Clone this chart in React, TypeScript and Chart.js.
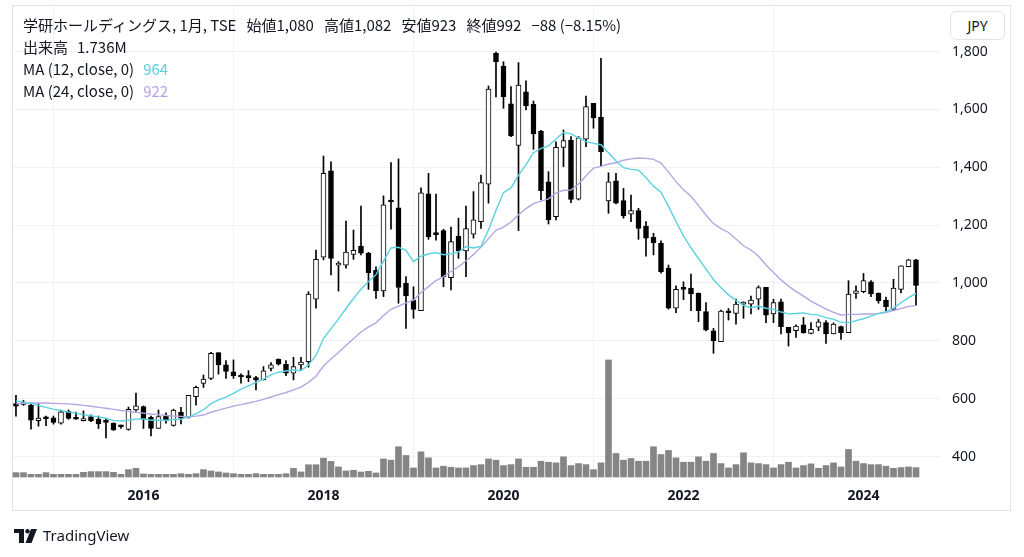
import React, { useEffect, useRef } from 'react';
import { Chart, registerables } from 'chart.js';
Chart.register(...registerables);

// Monthly candles, 2014-08 .. 2024-08 (学研ホールディングス, TSE)
const firstYear = 2014;
const firstMonth = 8;
const opens = [583,586,578,524,532,534,515,556,531,524,538,529,520,515,505,494,561,573,536,497,543,508,554,536,607,653,670,759,717,693,678,679,673,665,705,736,719,688,717,728,944,1089,1388,1062,1062,1099,1128,1103,1045,973,1285,1260,999,941,904,1308,1170,1181,1018,1162,1111,1169,1212,1342,1794,1750,1619,1476,1661,1618,1525,1350,1229,1469,1494,1290,1497,1621,1573,1284,1353,1285,1238,1250,1197,1158,1137,1051,913,985,982,964,901,835,797,903,895,927,927,944,985,893,935,847,835,855,826,847,863,824,849,828,964,970,1004,964,941,909,978,1056,1080];
const highs = [612,594,582,582,540,540,561,561,554,558,544,540,530,517,509,571,619,575,540,561,551,564,570,612,644,682,760,759,732,734,686,697,677,711,725,738,732,743,743,970,1114,1439,1419,1074,1214,1183,1266,1106,1056,1301,1416,1429,1022,987,1329,1379,1307,1186,1193,1224,1266,1316,1373,1681,1798,1765,1679,1762,1699,1629,1528,1385,1488,1529,1506,1506,1646,1621,1777,1381,1379,1327,1304,1258,1212,1172,1146,1062,990,1004,1031,966,932,843,906,912,944,935,955,990,985,944,944,847,855,881,863,874,870,862,851,1008,990,1033,1008,966,951,1013,1059,1082,1082];
const lows = [540,577,495,505,507,512,512,529,528,523,521,497,464,490,497,491,556,497,471,497,515,505,513,533,578,639,666,685,670,670,654,659,630,665,696,716,680,665,701,709,913,1080,1028,972,1051,1082,1097,978,947,953,1186,930,843,878,904,1151,1148,987,976,1085,1022,1155,1189,1276,1643,1604,1506,1181,1598,1462,1287,1204,1218,1402,1278,1287,1471,1535,1404,1241,1273,1224,1212,1151,1093,1097,1034,910,897,942,904,866,834,757,797,872,858,878,893,909,863,863,824,782,812,826,824,835,791,824,805,828,947,966,953,930,904,907,966,1056,923];
const closes = [574,580,526,533,530,518,555,532,529,531,524,513,518,492,503,563,575,529,497,538,524,561,533,612,639,668,757,717,694,679,675,673,665,696,717,719,688,711,727,962,1082,1379,1085,1068,1107,1113,1103,1036,973,1270,1280,985,955,909,1312,1160,1167,1022,1143,1111,1188,1218,1347,1670,1765,1644,1508,1684,1613,1515,1319,1218,1469,1492,1289,1502,1610,1571,1454,1350,1276,1232,1250,1189,1155,1139,1039,913,978,978,962,904,838,801,903,897,927,930,941,984,889,932,849,828,851,828,840,866,824,858,828,962,973,1008,962,939,918,982,1059,1080,992];
// Volume in millions of shares
const volumes = [0.81,0.81,0.5,0.5,0.81,0.5,0.5,0.5,0.5,0.87,1.0,1.0,1.0,0.87,0.5,1.37,1.62,0.56,0.5,0.5,0.5,0.5,0.62,0.5,0.62,1.37,1.12,0.94,0.75,0.62,0.5,0.5,0.62,0.5,0.5,0.5,0.62,1.6,0.94,2.27,2.27,3.5,2.9,1.87,1.12,1.25,0.93,1.06,0.75,3.36,3.12,5.61,3.99,1.68,4.67,3.55,1.68,2.0,1.81,1.68,1.68,2.12,2.3,3.36,3.12,2.12,2.3,3.36,1.81,1.81,2.93,2.74,2.62,3.74,2.12,2.49,2.3,1.37,2.62,21.7,4.36,3.12,3.43,2.93,2.93,5.61,4.17,4.92,3.55,2.74,2.74,3.74,2.93,4.36,2.49,1.68,2.3,4.49,2.62,2.49,2.3,1.68,2.3,2.74,1.68,2.12,2.43,1.62,2.12,2.62,1.87,5.11,2.93,2.49,2.3,2.3,2.0,1.62,1.74,1.87,1.74];
// Moving-average values read from the picture where earlier months are not shown
const ma12Early = [592,588,584,577,570,564,559,554,550,545,541];
const ma24Early = [582,584,585,585,585,584,583,582,580,577,574,570,567,563,559,556,553,550,547,545,542,540,539];
const yearTicks = [2016, 2018, 2020, 2022, 2024];
const priceTicks = [400, 600, 800, 1000, 1200, 1400, 1600, 1800];
const headerParts = ['学研ホールディングス, 1月, TSE', '始値1,080', '高値1,082', '安値923', '終値992', '−88 (−8.15%)'];

const FONT = '"Noto Sans", "Noto Sans CJK JP", sans-serif';
const CJK = '"Noto Sans CJK JP", "Noto Sans", sans-serif';

function sma(period: number, early: number[]) {
  return closes.map((_, i) => {
    if (i < period - 1) return { x: i, y: early[i] };
    let s = 0;
    for (let k = i - period + 1; k <= i; k++) s += closes[k];
    return { x: i, y: s / period };
  });
}

const zeroPad = (s: any) => { s.paddingTop = 0; s.paddingBottom = 0; s.paddingLeft = 0; s.paddingRight = 0; };

export default function App() {
  const ref = useRef<HTMLCanvasElement>(null);
  useEffect(() => {
    const idx = closes.map((_, i) => i);
    const up = idx.map(i => closes[i] >= opens[i]);
    const chart = new Chart(ref.current!, {
      type: 'bar',
      data: {
        datasets: [
          {
            type: 'line', label: 'MA12', data: sma(12, ma12Early), borderColor: '#5ad2e2',
            borderWidth: 1.4, pointRadius: 0, tension: 0, yAxisID: 'y', order: 1,
          } as any,
          {
            type: 'line', label: 'MA24', data: sma(24, ma24Early), borderColor: '#b7a5e2',
            borderWidth: 1.4, pointRadius: 0, tension: 0, yAxisID: 'y', order: 2,
          } as any,
          {
            type: 'bar', label: 'body', data: idx.map(i => ({ x: i, y: [opens[i], closes[i]] })),
            backgroundColor: up.map(u => (u ? '#ffffff' : '#000000')), borderColor: '#000000',
            borderWidth: 1, borderSkipped: false, barThickness: 5, minBarLength: 2, grouped: false,
            yAxisID: 'y', order: 3,
          } as any,
          {
            type: 'bar', label: 'wick', data: idx.map(i => ({ x: i, y: [lows[i], highs[i]] })),
            backgroundColor: '#000000', borderWidth: 0, barThickness: 1, grouped: false,
            yAxisID: 'y', order: 4,
          } as any,
          {
            type: 'bar', label: 'vol', data: idx.map(i => ({ x: i, y: volumes[i] })),
            backgroundColor: '#858585', borderWidth: 0, barThickness: 6, grouped: false,
            yAxisID: 'yv', order: 5,
          } as any,
        ],
      },
      options: {
        animation: false,
        responsive: false,
        devicePixelRatio: 1,
        layout: { padding: { left: 12, right: 12, top: 5, bottom: 45 } },
        plugins: { legend: { display: false }, tooltip: { enabled: false } },
        scales: {
          x: {
            type: 'linear', min: -0.53, max: 123.2, offset: false,
            grid: { color: '#eff1f5', drawTicks: false },
            border: { display: false },
            afterBuildTicks: (s: any) => {
              s.ticks = yearTicks.map(y => ({ value: (y - firstYear) * 12 + (1 - firstMonth) }));
            },
            afterFit: (s: any) => { s.height = 33; zeroPad(s); },
            ticks: {
              padding: 9, color: '#131722', font: { family: FONT, size: 14, weight: 'bold' },
              maxRotation: 0, autoSkip: false,
              callback: (v: any) => String(firstYear + Math.floor((Number(v) + firstMonth - 1) / 12)),
            },
          },
          y: {
            position: 'right', min: 322.4, max: 1961,
            grid: { color: '#eff1f5', drawTicks: false },
            border: { display: false },
            afterBuildTicks: (s: any) => { s.ticks = priceTicks.map(v => ({ value: v })); },
            afterFit: (s: any) => { s.width = 72; zeroPad(s); },
            ticks: {
              padding: 12, color: '#131722', crossAlign: 'near', font: { family: FONT, size: 14 },
              callback: (v: any) => Number(v).toLocaleString('en-US'),
            },
          },
          yv: { display: false, min: -0.37, max: 87.5, afterFit: zeroPad },
        },
      } as any,
    });
    return () => chart.destroy();
  }, []);

  const line: React.CSSProperties = {
    position: 'absolute', left: 23, fontFamily: CJK, fontSize: 15, color: '#131722',
    whiteSpace: 'pre', lineHeight: '20px',
  };
  return (
    <div style={{ position: 'fixed', left: 0, top: 0, width: 1024, height: 557, background: '#fff', overflow: 'hidden' }}>
      <div style={{ position: 'absolute', left: 12, top: 5, width: 999, height: 506, border: '1px solid #e0e3eb', boxSizing: 'border-box' }} />
      <canvas ref={ref} width={1024} height={557} style={{ position: 'absolute', left: 0, top: 0, width: 1024, height: 557 }} />
      <div style={{ ...line, top: 15 }}>
        {headerParts.map((p, i) => (
          <span key={i} style={{ marginLeft: i === 0 ? 0 : 10 }}>{p}</span>
        ))}
      </div>
      <div style={{ ...line, top: 37 }}>出来高<span style={{ marginLeft: 9 }}>1.736M</span></div>
      <div style={{ ...line, top: 59 }}>MA (12, close, 0)<span style={{ marginLeft: 9, color: '#5ad2e2' }}>964</span></div>
      <div style={{ ...line, top: 81 }}>MA (24, close, 0)<span style={{ marginLeft: 9, color: '#b7a5e2' }}>922</span></div>
      <div style={{
        position: 'absolute', left: 950, top: 11, width: 55, height: 29, border: '1px solid #e0e3eb',
        borderRadius: 6, boxSizing: 'border-box', background: '#fff', fontFamily: FONT, fontSize: 14,
        color: '#131722', display: 'flex', alignItems: 'center', justifyContent: 'center',
      }}>JPY</div>
      <svg style={{ position: 'absolute', left: 14, top: 529 }} width={26} height={14} viewBox="0 0 26 14">
        <path d="M0 0H10V14H5V4H0Z" fill="#131722" />
        <circle cx="13.5" cy="2.2" r="2.2" fill="#131722" />
        <path d="M17 0H23L17.5 14H11.5Z" fill="#131722" />
      </svg>
      <div style={{ position: 'absolute', left: 43, top: 525, fontFamily: FONT, fontSize: 15, color: '#131722', lineHeight: '20px' }}>
        TradingView
      </div>
    </div>
  );
}
